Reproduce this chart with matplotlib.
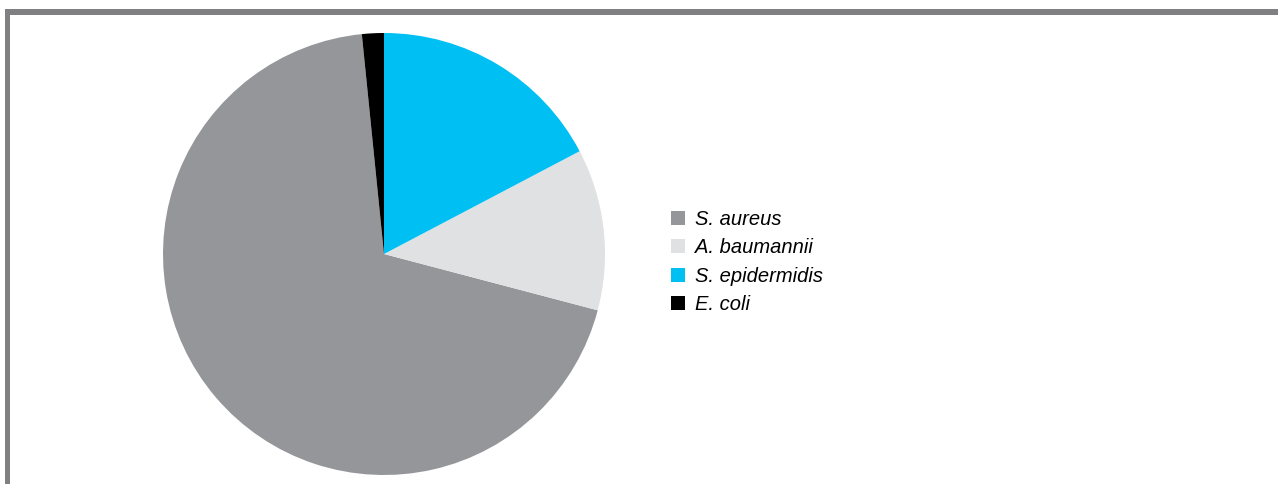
import matplotlib
matplotlib.use('Agg')
import matplotlib.pyplot as plt
from matplotlib.patches import Patch, Rectangle

species = ['S. aureus', 'A. baumannii', 'S. epidermidis', 'E. coli']
share = [69.3, 11.8, 17.3, 1.6]
colours = ['#959699', '#e0e1e3', '#00c0f3', '#000000']

W, H = 1278, 484
fig = plt.figure(figsize=(W / 100, H / 100), dpi=100)
plt.rcParams['font.family'] = ['Liberation Sans', 'DejaVu Sans']

# grey frame along the top and left edge
frame = '#808082'
fig.add_artist(Rectangle((5 / W, 1 - 15 / H), 1, 6 / H, transform=fig.transFigure,
                         color=frame, lw=0))
fig.add_artist(Rectangle((5 / W, 0), 5 / W, 1 - 9 / H, transform=fig.transFigure,
                         color=frame, lw=0))

# pie, E. coli wedge ends right at 12 o'clock
ax = fig.add_axes([163 / W, 9 / H, 442 / W, 442 / H])
start = 90 + 360 * share[-1] / sum(share)
ax.pie(share, colors=colours, startangle=start, counterclock=True,
       wedgeprops={'linewidth': 0})
ax.set_xlim(-1, 1)
ax.set_ylim(-1, 1)
ax.set_aspect('equal')
ax.axis('off')

handles = [Patch(facecolor=c, edgecolor='none') for c in colours]
fig.legend(handles, species, loc='upper left',
           bbox_to_anchor=(671 / W, 1 - 210 / H), frameon=False,
           prop={'size': 14.5, 'style': 'italic'},
           handlelength=0.7, handleheight=0.7, handletextpad=0.5,
           labelspacing=0.47, borderpad=0, borderaxespad=0)

fig.savefig('out.png', dpi=100)
